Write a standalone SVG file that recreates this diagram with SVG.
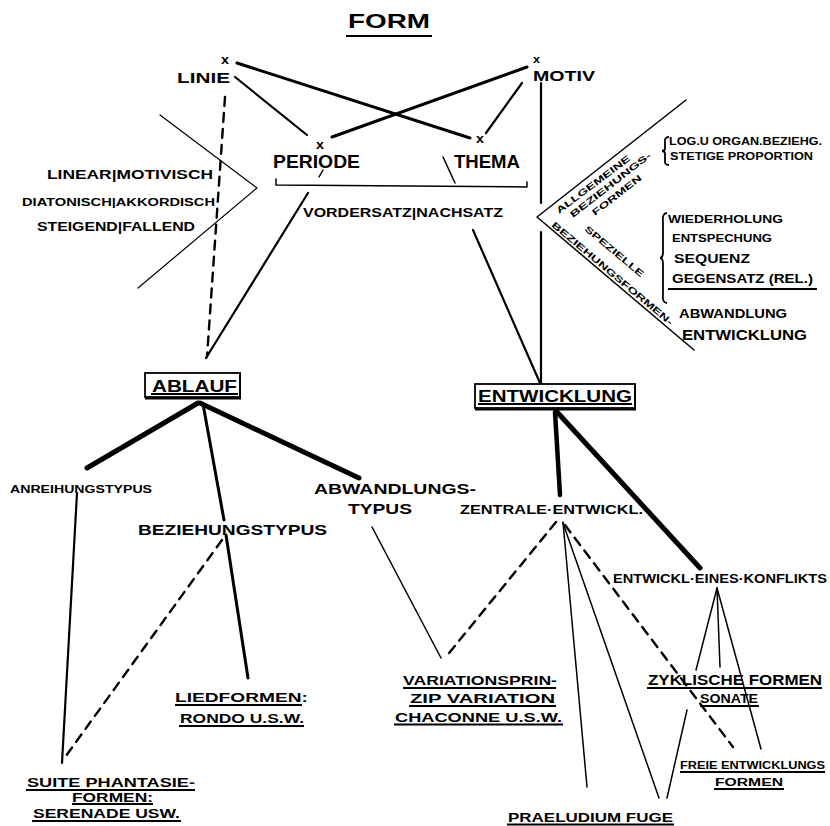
<svg xmlns="http://www.w3.org/2000/svg" width="830" height="826" viewBox="0 0 830 826">
<style>
text{font-family:"Liberation Sans",Arial,sans-serif;font-weight:bold;fill:#000}
.c line,.c polyline,.c path{stroke:#000;fill:none;stroke-linecap:round;stroke-linejoin:round}
.u{stroke:#000;stroke-width:1.8;fill:none}
.box{stroke:#000;stroke-width:1.8;fill:#fff}
.thick{stroke-width:5}
.th4{stroke-width:4.5}
.med{stroke-width:3}
.m2{stroke-width:2.2}
.thin{stroke-width:1.5}
.hair{stroke-width:1.2}
.dash{stroke-width:2.4;stroke-dasharray:9 7}
</style>
<rect width="830" height="826" fill="#fff"/>

<g id="connectors" class="c">
  <line class="med" x1="237" y1="63" x2="470" y2="138"/>
  <line class="m2" x1="235" y1="77" x2="307" y2="135"/>
  <line class="med" x1="527" y1="67" x2="332" y2="137"/>
  <line class="m2" x1="522" y1="83" x2="486" y2="133"/>
  <line class="dash" x1="225" y1="97" x2="207" y2="357"/>
  <line class="m2" x1="308" y1="193" x2="206" y2="358"/>
  <line class="m2" x1="473" y1="230" x2="540" y2="383"/>
  <line class="m2" x1="541" y1="83" x2="541" y2="203"/>
  <line class="m2" x1="541" y1="232" x2="541" y2="384"/>
  <polyline class="hair" points="160,115 257,188 138,288"/>
  <polyline class="thin" points="686,100 537,217 694,350"/>
  <path class="thin" d="M276 179 L276 185 L527 187 L527 182"/>
  <line class="thin" x1="323" y1="170" x2="319" y2="177"/>
  <line class="thin" x1="443" y1="157" x2="455" y2="183"/>
  <!-- Ablauf branches -->
  <line class="thick" x1="198" y1="403" x2="87" y2="468"/>
  <line class="thick" x1="200" y1="403" x2="359" y2="478"/>
  <line class="med" x1="203" y1="404" x2="224" y2="520"/>
  <line class="m2" x1="77" y1="493" x2="62" y2="763"/>
  <line class="med" x1="226" y1="535" x2="248" y2="678"/>
  <line class="dash" x1="222" y1="540" x2="63" y2="760"/>
  <line class="thin" x1="372" y1="527" x2="441" y2="658"/>
  <!-- Entwicklung branches -->
  <line class="th4" x1="555" y1="412" x2="560" y2="495"/>
  <line class="thick" x1="557" y1="412" x2="700" y2="568"/>
  <line class="dash" x1="556" y1="522" x2="445" y2="658"/>
  <line class="thin" x1="563" y1="522" x2="587" y2="787"/>
  <line class="thin" x1="563" y1="523" x2="659" y2="798"/>
  <line class="dash" x1="565" y1="525" x2="733" y2="747"/>
  <line class="thin" x1="717" y1="588" x2="696" y2="670"/>
  <line class="thin" x1="717" y1="588" x2="720" y2="667"/>
  <line class="thin" x1="717" y1="588" x2="761" y2="749"/>
  <line class="thin" x1="667" y1="798" x2="687" y2="710"/>
</g>

<g id="form">
  <text x="348" y="28" font-size="21" font-weight="normal" textLength="82" lengthAdjust="spacingAndGlyphs">FORM</text>
  <line class="u" x1="346" y1="36" x2="432" y2="36" stroke-width="2.2"/>
</g>

<g id="linie">
  <text x="221" y="64" font-size="12" textLength="8" lengthAdjust="spacingAndGlyphs">x</text>
  <text x="177" y="83" font-size="15" textLength="53" lengthAdjust="spacingAndGlyphs">LINIE</text>
</g>
<g id="motiv">
  <text x="533" y="63" font-size="10" textLength="7" lengthAdjust="spacingAndGlyphs">x</text>
  <text x="533" y="81" font-size="15" textLength="62" lengthAdjust="spacingAndGlyphs">MOTIV</text>
</g>
<g id="periode">
  <text x="316" y="149" font-size="12" textLength="8" lengthAdjust="spacingAndGlyphs">x</text>
  <text x="273" y="168" font-size="19" font-weight="normal" textLength="87" lengthAdjust="spacingAndGlyphs">PERIODE</text>
</g>
<g id="thema">
  <text x="476" y="143" font-size="12" textLength="8" lengthAdjust="spacingAndGlyphs">x</text>
  <text x="454" y="168" font-size="19" font-weight="normal" textLength="66" lengthAdjust="spacingAndGlyphs">THEMA</text>
</g>
<g id="vordersatz">
  <text x="303" y="217" font-size="12" textLength="200" lengthAdjust="spacingAndGlyphs">VORDERSATZ|NACHSATZ</text>
</g>

<g id="linie-eigenschaften">
  <text x="47" y="179" font-size="12" textLength="166" lengthAdjust="spacingAndGlyphs">LINEAR|MOTIVISCH</text>
  <text x="22" y="206" font-size="11" textLength="193" lengthAdjust="spacingAndGlyphs">DIATONISCH|AKKORDISCH</text>
  <text x="37" y="231" font-size="12" textLength="158" lengthAdjust="spacingAndGlyphs">STEIGEND|FALLEND</text>
</g>

<g id="beziehungsformen">
  <text transform="translate(559,214) rotate(-37)" font-size="9" textLength="90" lengthAdjust="spacingAndGlyphs">ALLGEMEINE</text>
  <text transform="translate(573,218) rotate(-38)" font-size="9" textLength="100" lengthAdjust="spacingAndGlyphs">BEZIEHUNGS-</text>
  <text transform="translate(595,216) rotate(-38)" font-size="9" textLength="60" lengthAdjust="spacingAndGlyphs">FORMEN</text>
  <text transform="translate(584,230) rotate(40)" font-size="9" textLength="74" lengthAdjust="spacingAndGlyphs">SPEZIELLE</text>
  <text transform="translate(551,226) rotate(40)" font-size="9" textLength="155" lengthAdjust="spacingAndGlyphs">BEZIEHUNGSFORMEN-</text>
  <path class="u" stroke-width="1.5" d="M669 137 Q664 137 665 143 L665 148 Q665 151 662 151 Q665 151 665 154 L665 160 Q664 165 669 165"/>
  <text x="669" y="145" font-size="10" textLength="153" lengthAdjust="spacingAndGlyphs">LOG.U ORGAN.BEZIEHG.</text>
  <text x="670" y="160" font-size="10" textLength="143" lengthAdjust="spacingAndGlyphs">STETIGE PROPORTION</text>
  <path class="u" stroke-width="1.5" d="M667 213 Q662 213 663 222 L663 252 Q663 258 660 258 Q663 258 663 264 L663 294 Q662 303 667 303"/>
  <text x="668" y="223" font-size="10" textLength="115" lengthAdjust="spacingAndGlyphs">WIEDERHOLUNG</text>
  <text x="672" y="242" font-size="10" textLength="100" lengthAdjust="spacingAndGlyphs">ENTSPECHUNG</text>
  <text x="674" y="263" font-size="12" textLength="76" lengthAdjust="spacingAndGlyphs">SEQUENZ</text>
  <text x="672" y="283" font-size="12" textLength="141" lengthAdjust="spacingAndGlyphs">GEGENSATZ (REL.)</text>
  <line class="u" x1="668" y1="289" x2="817" y2="289" stroke-width="2.4"/>
  <text x="679" y="318" font-size="13" textLength="108" lengthAdjust="spacingAndGlyphs">ABWANDLUNG</text>
  <text x="682" y="340" font-size="14" textLength="125" lengthAdjust="spacingAndGlyphs">ENTWICKLUNG</text>
</g>

<g id="ablauf">
  <rect class="box" x="145" y="373" width="95" height="24"/>
  <line class="u" x1="145" y1="398.5" x2="241" y2="398.5" stroke-width="3"/>
  <line class="u" x1="240" y1="373" x2="240" y2="399" stroke-width="2.5"/>
  <text x="152" y="392" font-size="17" font-weight="normal" textLength="85" lengthAdjust="spacingAndGlyphs">ABLAUF</text>
  <line class="u" x1="151" y1="394" x2="238" y2="394" stroke-width="1.5"/>
</g>

<g id="entwicklung">
  <rect class="box" x="475" y="384" width="160" height="24"/>
  <line class="u" x1="475" y1="409.5" x2="636" y2="409.5" stroke-width="3"/>
  <line class="u" x1="635" y1="384" x2="635" y2="410" stroke-width="2.5"/>
  <text x="478" y="402" font-size="17" font-weight="normal" textLength="154" lengthAdjust="spacingAndGlyphs">ENTWICKLUNG</text>
  <line class="u" x1="478" y1="404" x2="632" y2="404" stroke-width="1.5"/>
</g>

<g id="anreihungstypus">
  <text x="10" y="493" font-size="11" textLength="142" lengthAdjust="spacingAndGlyphs">ANREIHUNGSTYPUS</text>
</g>
<g id="beziehungstypus">
  <text x="138" y="535" font-size="15" textLength="189" lengthAdjust="spacingAndGlyphs">BEZIEHUNGSTYPUS</text>
</g>
<g id="abwandlungstypus">
  <text x="314" y="494" font-size="14" textLength="162" lengthAdjust="spacingAndGlyphs">ABWANDLUNGS-</text>
  <text x="348" y="514" font-size="14" textLength="64" lengthAdjust="spacingAndGlyphs">TYPUS</text>
</g>
<g id="zentrale">
  <text x="460" y="514" font-size="13" textLength="183" lengthAdjust="spacingAndGlyphs">ZENTRALE·ENTWICKL.</text>
</g>
<g id="konflikt">
  <text x="613" y="583" font-size="13" textLength="214" lengthAdjust="spacingAndGlyphs">ENTWICKL·EINES·KONFLIKTS</text>
</g>

<g id="suite">
  <text x="27" y="787" font-size="13" textLength="168" lengthAdjust="spacingAndGlyphs">SUITE PHANTASIE-</text>
  <line class="u" x1="26" y1="790" x2="195" y2="790"/>
  <text x="72" y="802" font-size="12" textLength="81" lengthAdjust="spacingAndGlyphs">FORMEN:</text>
  <line class="u" x1="72" y1="804" x2="153" y2="804"/>
  <text x="33" y="818" font-size="13" textLength="147" lengthAdjust="spacingAndGlyphs">SERENADE USW.</text>
  <line class="u" x1="32" y1="821" x2="181" y2="821"/>
</g>
<g id="liedformen">
  <text x="175" y="702" font-size="13" textLength="133" lengthAdjust="spacingAndGlyphs">LIEDFORMEN:</text>
  <line class="u" x1="175" y1="705" x2="302" y2="705"/>
  <text x="180" y="723" font-size="13" textLength="124" lengthAdjust="spacingAndGlyphs">RONDO U.S.W.</text>
  <line class="u" x1="179" y1="726" x2="304" y2="726"/>
</g>
<g id="variation">
  <text x="403" y="685" font-size="13" textLength="154" lengthAdjust="spacingAndGlyphs">VARIATIONSPRIN-</text>
  <line class="u" x1="403" y1="688" x2="556" y2="688"/>
  <text x="410" y="703" font-size="13" textLength="145" lengthAdjust="spacingAndGlyphs">ZIP VARIATION</text>
  <line class="u" x1="409" y1="706" x2="556" y2="706"/>
  <text x="395" y="722" font-size="13" textLength="167" lengthAdjust="spacingAndGlyphs">CHACONNE U.S.W.</text>
  <line class="u" x1="394" y1="724.5" x2="563" y2="724.5"/>
</g>
<g id="praeludium">
  <text x="508" y="822" font-size="13" textLength="165" lengthAdjust="spacingAndGlyphs">PRAELUDIUM FUGE</text>
  <line class="u" x1="507" y1="824.5" x2="674" y2="824.5"/>
</g>
<g id="zyklische">
  <text x="648" y="685" font-size="14" textLength="174" lengthAdjust="spacingAndGlyphs">ZYKLISCHE FORMEN</text>
  <line class="u" x1="647" y1="688" x2="822" y2="688"/>
  <text x="700" y="703" font-size="12" textLength="58" lengthAdjust="spacingAndGlyphs">SONATE</text>
  <line class="u" x1="700" y1="706" x2="759" y2="706"/>
</g>
<g id="freie">
  <text x="680" y="769" font-size="11" textLength="145" lengthAdjust="spacingAndGlyphs">FREIE ENTWICKLUNGS</text>
  <line class="u" x1="680" y1="772" x2="825" y2="772"/>
  <text x="715" y="786" font-size="11" textLength="68" lengthAdjust="spacingAndGlyphs">FORMEN</text>
  <line class="u" x1="714" y1="789" x2="784" y2="789"/>
</g>
</svg>
